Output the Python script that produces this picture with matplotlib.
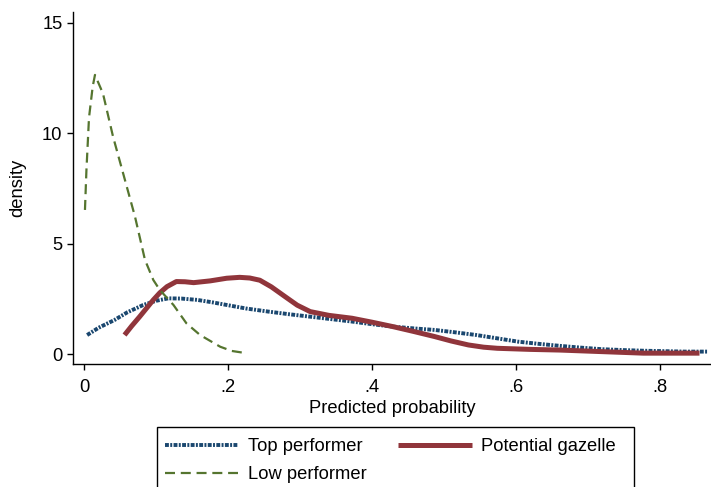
import matplotlib
matplotlib.use('Agg')
import matplotlib.pyplot as plt
from matplotlib.patches import Rectangle

plt.rcParams['font.family'] = ['Liberation Sans', 'DejaVu Sans']

# kernel density estimates
top_x = [0.004, 0.020, 0.042, 0.060, 0.082, 0.100, 0.117, 0.135, 0.157, 0.178, 0.198,
         0.225, 0.256, 0.285, 0.314, 0.343, 0.372, 0.400, 0.429, 0.458, 0.487, 0.516,
         0.545, 0.574, 0.603, 0.632, 0.661, 0.690, 0.719, 0.748, 0.777, 0.806, 0.835, 0.867]
top_y = [0.87, 1.20, 1.55, 1.90, 2.23, 2.42, 2.53, 2.52, 2.46, 2.35, 2.23,
         2.07, 1.93, 1.81, 1.70, 1.59, 1.48, 1.36, 1.25, 1.17, 1.10, 0.99,
         0.87, 0.72, 0.57, 0.47, 0.38, 0.30, 0.23, 0.19, 0.16, 0.14, 0.12, 0.12]

gaz_x = [0.056, 0.066, 0.077, 0.087, 0.096, 0.105, 0.115, 0.128, 0.140, 0.152, 0.175,
         0.198, 0.216, 0.230, 0.244, 0.260, 0.279, 0.296, 0.314, 0.340, 0.372, 0.400,
         0.429, 0.458, 0.487, 0.510, 0.534, 0.555, 0.574, 0.620, 0.661, 0.719, 0.777, 0.855]
gaz_y = [0.87, 1.28, 1.70, 2.10, 2.46, 2.78, 3.06, 3.29, 3.28, 3.24, 3.32,
         3.44, 3.48, 3.45, 3.35, 3.05, 2.61, 2.22, 1.93, 1.76, 1.63, 1.45,
         1.25, 1.03, 0.80, 0.60, 0.42, 0.32, 0.27, 0.22, 0.19, 0.12, 0.05, 0.05]

low_x = [0.001, 0.003, 0.0066, 0.0117, 0.0149, 0.026, 0.040, 0.054, 0.0705, 0.0844,
         0.096, 0.105, 0.124, 0.142, 0.161, 0.189, 0.205, 0.221]
low_y = [6.53, 8.3, 10.7, 12.1, 12.64, 11.8, 9.85, 8.19, 6.23, 4.27,
         3.36, 2.91, 2.23, 1.40, 0.87, 0.34, 0.15, 0.07]

labels = ['Top performer', 'Low performer', 'Potential gazelle']
navy = '#1a476f'
maroon = '#90353b'
green = '#55752f'
fs = 13.2

fig = plt.figure(figsize=(7.11, 4.87), dpi=100)
ax = fig.add_axes([0.103, 0.2526, 0.897, 0.7234])

l1, = ax.plot(top_x, top_y, color=navy, lw=2.8, linestyle=(0, (1.0, 0.35, 0.5, 0.35)),
              solid_joinstyle='round')
l3, = ax.plot(gaz_x, gaz_y, color=maroon, lw=3.6, solid_capstyle='butt')
l2, = ax.plot(low_x, low_y, color=green, lw=1.6, linestyle=(0, (4.5, 2.6)))

ax.set_xlim(-0.0153, 0.871)
ax.set_ylim(-0.44, 15.5)
ax.set_xticks([0, 0.2, 0.4, 0.6, 0.8])
ax.set_xticklabels(['0', '.2', '.4', '.6', '.8'])
ax.set_yticks([0, 5, 10, 15])
ax.tick_params(labelsize=fs, length=4.3, width=1, colors='black')
ax.tick_params(axis='x', pad=6.5)
ax.tick_params(axis='y', pad=3.5)
for s in ['top', 'right']:
    ax.spines[s].set_visible(False)
for s in ['left', 'bottom']:
    ax.spines[s].set_linewidth(1)

ax.set_xlabel('Predicted probability', fontsize=fs, labelpad=3)
ax.set_ylabel('density', fontsize=fs, labelpad=11)

# legend frame runs off the bottom of the picture
fig.patches.append(Rectangle((157 / 711, -0.1), 477 / 711, 0.1 + 60 / 487,
                             transform=fig.transFigure, fill=False,
                             edgecolor='black', lw=1))
fig.legend([l1, l2, l3], labels, loc='upper left',
           bbox_to_anchor=(165 / 711, 49 / 487), ncol=2, frameon=False,
           fontsize=fs, handlelength=4.0, handletextpad=0.5,
           columnspacing=1.75, labelspacing=0.6, borderpad=0, borderaxespad=0)

fig.savefig('out.png', dpi=100)
